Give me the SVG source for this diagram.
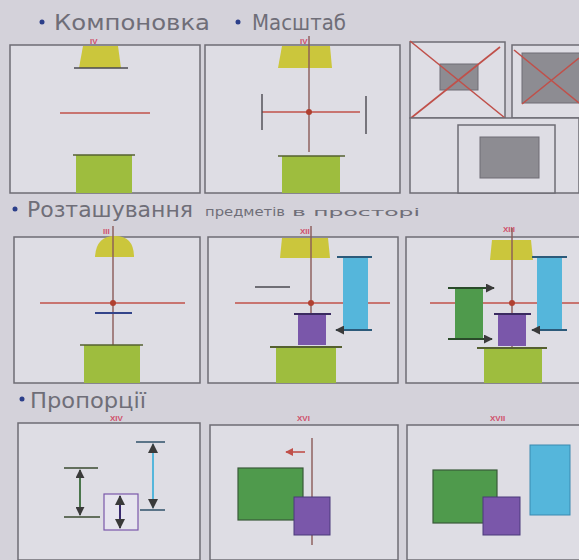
<svg xmlns="http://www.w3.org/2000/svg" width="579" height="560" viewBox="0 0 579 560">
<style>
.bg{fill:#d4d2da}
.panel{fill:#dedde4;stroke:#6e6c74;stroke-width:1.5}
.title{font-family:"Liberation Sans Narrow","DejaVu Sans Condensed","Liberation Sans",sans-serif;fill:#6f6e78;font-weight:normal}
.bullet{fill:#2c3f8a}
.num{font-family:"Liberation Sans",sans-serif;font-size:8px;fill:#d0506a;font-weight:bold}
.red{stroke:#c0504a;stroke-width:1.6;fill:none}
.axisv{stroke:#8a5a58;stroke-width:1.4;fill:none}
.dark{stroke:#4a4850;stroke-width:1.4;fill:none}
.yellow{fill:#cbc63c}
.lgreen{fill:#9ebd3e}
.dgreen{fill:#4f9a4c}
.blue{fill:#55b6db}
.purple{fill:#7a57aa}
.gray{fill:#8d8c92;stroke:#6e6c74;stroke-width:1}
.dot{fill:#b04030}
</style>
<defs>
<marker id="ah" viewBox="0 0 10 10" refX="9" refY="5" markerWidth="5" markerHeight="5" orient="auto-start-reverse"><path d="M0,0 L10,5 L0,10 z" fill="#3a3a3a"/></marker>
<marker id="ahr" viewBox="0 0 10 10" refX="9" refY="5" markerWidth="5" markerHeight="5" orient="auto-start-reverse"><path d="M0,0 L10,5 L0,10 z" fill="#c0504a"/></marker>
</defs>
<rect class="bg" x="0" y="0" width="579" height="560"/>

<!-- Titles -->
<g id="title-row1">
<circle class="bullet" cx="42" cy="22" r="2.5"/>
<text class="title" x="54" y="30" font-size="22" textLength="156" lengthAdjust="spacingAndGlyphs">Компоновка</text>
<circle class="bullet" cx="238" cy="22" r="2.5"/>
<text class="title" x="252" y="30" font-size="22" textLength="94" lengthAdjust="spacingAndGlyphs">Масштаб</text>
</g>
<g id="title-row2">
<circle class="bullet" cx="15" cy="209" r="2.5"/>
<text class="title" x="27" y="217" font-size="22" textLength="166" lengthAdjust="spacingAndGlyphs">Розташування</text>
<text class="title" x="205" y="216" font-size="12" textLength="80" lengthAdjust="spacingAndGlyphs">предметів</text>
<text class="title" x="292" y="216" font-size="10" textLength="128" lengthAdjust="spacingAndGlyphs">в просторі</text>
</g>
<g id="title-row3">
<circle class="bullet" cx="22" cy="399" r="2.5"/>
<text class="title" x="30" y="408" font-size="21" textLength="116" lengthAdjust="spacingAndGlyphs">Пропорції</text>
</g>

<!-- Row 1 -->
<g id="r1p1">
<rect class="panel" x="10" y="45" width="190" height="148"/>
<text class="num" x="90" y="44">IV</text>
<path class="yellow" d="M83,46 L118,46 L121,68 L79,68 Z"/>
<line class="dark" x1="74" y1="68" x2="128" y2="68" stroke="#b0a040"/>
<line class="red" x1="60" y1="113" x2="150" y2="113"/>
<rect class="lgreen" x="76" y="155" width="56" height="38"/>
<line x1="73" y1="155" x2="135" y2="155" stroke="#556030" stroke-width="1.5"/>
</g>
<g id="r1p2">
<rect class="panel" x="205" y="45" width="195" height="148"/>
<text class="num" x="300" y="44">IV</text>
<path class="yellow" d="M282,46 L330,46 L332,68 L278,68 Z"/>
<line class="axisv" x1="309" y1="36" x2="309" y2="152"/>
<line class="red" x1="262" y1="112" x2="360" y2="112"/>
<circle class="dot" cx="309" cy="112" r="3"/>
<line class="dark" x1="262" y1="94" x2="262" y2="130"/>
<line class="dark" x1="366" y1="96" x2="366" y2="134"/>
<rect class="lgreen" x="282" y="156" width="58" height="37"/>
<line x1="278" y1="156" x2="345" y2="156" stroke="#556030" stroke-width="1.5"/>
</g>
<g id="r1p3">
<rect class="panel" x="410" y="42" width="95" height="76"/>
<rect class="gray" x="440" y="64" width="38" height="26" fill="#9c9aa2"/>
<line class="red" x1="410" y1="41" x2="505" y2="118" stroke-width="1.3"/>
<line class="red" x1="411" y1="118" x2="500" y2="47" stroke-width="1.3"/>
<rect class="panel" x="512" y="45" width="70" height="73"/>
<rect class="gray" x="522" y="53" width="60" height="50"/>
<line class="red" x1="514" y1="50" x2="579" y2="103" stroke-width="1.3"/>
<line class="red" x1="522" y1="104" x2="579" y2="58" stroke-width="1.3"/>
<rect class="panel" x="410" y="118" width="169" height="75" fill="none"/>
<rect class="panel" x="458" y="125" width="97" height="68"/>
<rect class="gray" x="480" y="137" width="59" height="41"/>
</g>

<!-- Row 2 -->
<g id="r2p1">
<rect class="panel" x="14" y="237" width="186" height="146"/>
<text class="num" x="103" y="234">III</text>
<path class="yellow" d="M95,257 Q96,236 115,236 Q134,236 134,257 Z"/>
<line class="axisv" x1="113" y1="226" x2="113" y2="355"/>
<line class="red" x1="40" y1="303" x2="185" y2="303"/>
<circle class="dot" cx="113" cy="303" r="3"/>
<line x1="95" y1="313" x2="132" y2="313" stroke="#33448a" stroke-width="2"/>
<rect class="lgreen" x="84" y="345" width="56" height="38"/>
<line x1="80" y1="345" x2="143" y2="345" stroke="#556030" stroke-width="1.5"/>
</g>
<g id="r2p2">
<rect class="panel" x="208" y="237" width="190" height="146"/>
<text class="num" x="300" y="234">XII</text>
<path class="yellow" d="M280,258 L282,238 L328,238 L330,258 Z"/>
<line class="axisv" x1="311" y1="226" x2="311" y2="345"/>
<line class="red" x1="235" y1="303" x2="390" y2="303"/>
<circle class="dot" cx="311" cy="303" r="3"/>
<line class="dark" x1="255" y1="287" x2="290" y2="287" stroke-width="1.2"/>
<rect class="purple" x="298" y="314" width="28" height="31"/>
<line x1="294" y1="314" x2="331" y2="314" stroke="#3a2a60" stroke-width="1.8"/>
<rect class="lgreen" x="276" y="347" width="60" height="36"/>
<line x1="270" y1="347" x2="342" y2="347" stroke="#556030" stroke-width="1.8"/>
<path class="blue" d="M343,258 L368,258 L368,330 L343,330 Z"/>
<line x1="337" y1="257" x2="372" y2="257" stroke="#2c5a7a" stroke-width="1.8"/>
<line x1="336" y1="330" x2="372" y2="330" stroke="#2c5a7a" stroke-width="1.8" marker-start="url(#ah)"/>
</g>
<g id="r2p3">
<rect class="panel" x="406" y="237" width="179" height="146"/>
<text class="num" x="503" y="232">XIII</text>
<path class="yellow" d="M490,260 L492,240 L531,240 L533,260 Z"/>
<line class="axisv" x1="512" y1="228" x2="512" y2="347"/>
<line class="red" x1="430" y1="303" x2="579" y2="303"/>
<circle class="dot" cx="512" cy="303" r="3"/>
<rect class="dgreen" x="455" y="288" width="28" height="51"/>
<line x1="448" y1="288" x2="494" y2="288" stroke="#2a4a2a" stroke-width="1.8" marker-end="url(#ah)"/>
<line x1="448" y1="339" x2="492" y2="339" stroke="#2a4a2a" stroke-width="1.8" marker-end="url(#ah)"/>
<rect class="purple" x="498" y="314" width="28" height="32"/>
<line x1="494" y1="314" x2="531" y2="314" stroke="#3a2a60" stroke-width="1.8"/>
<rect class="lgreen" x="484" y="348" width="58" height="35"/>
<line x1="477" y1="348" x2="547" y2="348" stroke="#556030" stroke-width="1.8"/>
<rect class="blue" x="537" y="258" width="25" height="72"/>
<line x1="532" y1="257" x2="567" y2="257" stroke="#2c5a7a" stroke-width="1.8"/>
<line x1="532" y1="330" x2="567" y2="330" stroke="#2c5a7a" stroke-width="1.8" marker-start="url(#ah)"/>
</g>

<!-- Row 3 -->
<g id="r3p1">
<rect class="panel" x="18" y="423" width="182" height="137"/>
<text class="num" x="110" y="421">XIV</text>
<line x1="64" y1="468" x2="98" y2="468" stroke="#3a4a30" stroke-width="1.6"/>
<line x1="64" y1="517" x2="100" y2="517" stroke="#3a4a30" stroke-width="1.6"/>
<line x1="80" y1="470" x2="80" y2="515" stroke="#3a6a3a" stroke-width="1.8" marker-start="url(#ah)" marker-end="url(#ah)"/>
<rect x="104" y="494" width="34" height="36" fill="#e6e4ee" stroke="#7a57aa" stroke-width="1.2"/>
<line x1="120" y1="496" x2="120" y2="528" stroke="#3a2a70" stroke-width="2" marker-start="url(#ah)" marker-end="url(#ah)"/>
<line x1="136" y1="442" x2="165" y2="442" stroke="#3a5a70" stroke-width="1.6"/>
<line x1="140" y1="510" x2="165" y2="510" stroke="#3a5a70" stroke-width="1.6"/>
<line x1="153" y1="444" x2="153" y2="508" stroke="#55b6db" stroke-width="2" marker-start="url(#ah)" marker-end="url(#ah)"/>
</g>
<g id="r3p2">
<rect class="panel" x="210" y="425" width="188" height="135"/>
<text class="num" x="297" y="421">XVI</text>
<rect class="dgreen" x="238" y="468" width="65" height="52" stroke="#3a5a3a" stroke-width="1.2"/>
<line class="axisv" x1="312" y1="438" x2="312" y2="545"/>
<line x1="305" y1="452" x2="286" y2="452" stroke="#c0504a" stroke-width="1.6" marker-end="url(#ahr)"/>
<rect class="purple" x="294" y="497" width="36" height="38" stroke="#4a3a7a" stroke-width="1"/>
</g>
<g id="r3p3">
<rect class="panel" x="407" y="425" width="179" height="135"/>
<text class="num" x="490" y="421">XVII</text>
<rect class="dgreen" x="433" y="470" width="64" height="53" stroke="#3a5a3a" stroke-width="1.2"/>
<rect class="blue" x="530" y="445" width="40" height="70" stroke="#3a8ab0" stroke-width="1"/>
<rect class="purple" x="483" y="497" width="37" height="38" stroke="#4a3a7a" stroke-width="1"/>
</g>
</svg>
